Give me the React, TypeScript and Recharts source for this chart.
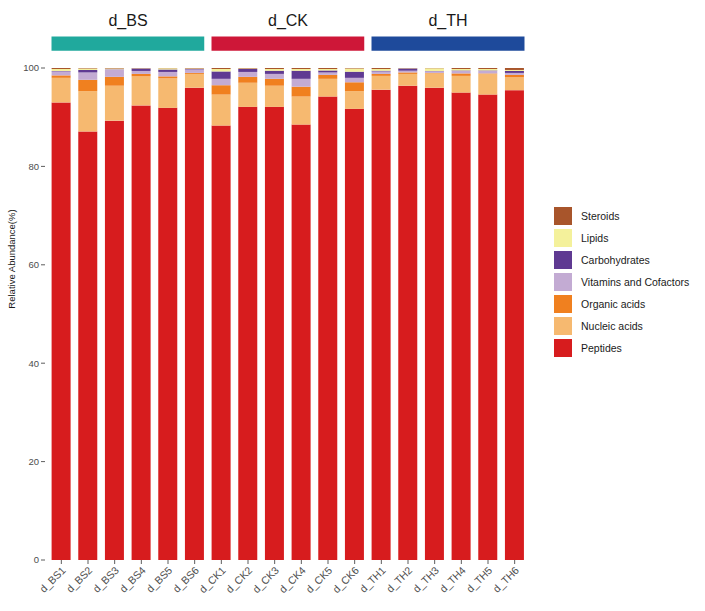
import React from "react";
import { BarChart, Bar, XAxis, YAxis, ReferenceArea } from "recharts";

const samples = [
  "d_BS1", "d_BS2", "d_BS3", "d_BS4", "d_BS5", "d_BS6",
  "d_CK1", "d_CK2", "d_CK3", "d_CK4", "d_CK5", "d_CK6",
  "d_TH1", "d_TH2", "d_TH3", "d_TH4", "d_TH5", "d_TH6",
];

const peptides = [93.0, 87.1, 89.3, 92.4, 91.9, 96.0, 88.3, 92.1, 92.1, 88.5, 94.2, 91.7, 95.6, 96.4, 96.0, 95.0, 94.6, 95.5];
const nucleicAcids = [5.0, 8.2, 7.1, 5.9, 6.0, 2.8, 6.3, 4.9, 4.3, 5.7, 3.6, 3.6, 2.8, 2.4, 2.9, 3.4, 4.2, 2.6];
const organicAcids = [0.5, 2.3, 1.8, 0.5, 0.4, 0.2, 1.9, 1.2, 1.4, 2.0, 0.8, 1.8, 0.4, 0.3, 0.1, 0.5, 0.1, 0.5];
const vitamins = [0.8, 1.5, 1.5, 0.6, 0.9, 0.7, 1.3, 1.0, 1.0, 1.6, 0.5, 0.9, 0.5, 0.35, 0.35, 0.5, 0.5, 0.4];
const carbohydrates = [0.1, 0.5, 0.05, 0.5, 0.5, 0.1, 1.5, 0.6, 0.65, 1.65, 0.4, 1.25, 0.15, 0.45, 0.05, 0.1, 0.1, 0.4];
const lipids = [0.4, 0.3, 0.15, 0.05, 0.25, 0.1, 0.5, 0.1, 0.35, 0.35, 0.3, 0.65, 0.35, 0.05, 0.55, 0.3, 0.3, 0.2];
const steroids = [0.2, 0.1, 0.1, 0.05, 0.05, 0.1, 0.2, 0.1, 0.2, 0.2, 0.2, 0.1, 0.2, 0.05, 0.05, 0.2, 0.2, 0.4];

const seriesNames = ["Peptides", "Nucleic acids", "Organic acids", "Vitamins and Cofactors", "Carbohydrates", "Lipids", "Steroids"];
const seriesValues = [peptides, nucleicAcids, organicAcids, vitamins, carbohydrates, lipids, steroids];
const seriesColors = ["#D71C1E", "#F6B970", "#F0801F", "#C3ABD3", "#5F3A92", "#F4F19B", "#A8552B"];

const groupNames = ["d_BS", "d_CK", "d_TH"];
const groupStarts = [0, 6, 12];
const groupSizes = [6, 6, 6];
const groupColors = ["#20A99D", "#CE1738", "#1E4A9B"];

const yTicks = [0, 20, 40, 60, 80, 100];

const rows = samples.map((s, i) => {
  const r: Record<string, string | number> = { sample: s };
  seriesNames.forEach((n, k) => {
    r[n] = seriesValues[k][i];
  });
  return r;
});

const FONT = "'Liberation Sans', Arial, Helvetica, sans-serif";

const XTick = (props: any) => {
  const { x, y, payload } = props;
  const ax = x + 5;
  const ay = y + 11;
  return (
    <g>
      <line x1={x} x2={x} y1={y} y2={y + 4} stroke="#333" strokeWidth={0.8} />
      <text
        x={ax}
        y={ay}
        textAnchor="end"
        transform={`rotate(-45 ${ax} ${ay})`}
        fontSize={10.5}
        fill="#4d4d4d"
        fontFamily={FONT}
      >
        {payload.value}
      </text>
    </g>
  );
};

const YTick = (props: any) => {
  const { x, y, payload } = props;
  return (
    <g>
      <line x1={x - 7} x2={x - 3} y1={y} y2={y} stroke="#333" strokeWidth={0.8} />
      <text x={x - 9} y={y} dy="0.35em" textAnchor="end" fontSize={9.5} fill="#4d4d4d" fontFamily={FONT}>
        {payload.value}
      </text>
    </g>
  );
};

const YLabel = () => (
  <text
    x={11.5}
    y={259}
    transform="rotate(-90 11.5 259)"
    textAnchor="middle"
    dy="0.35em"
    fontSize={9.5}
    fill="#1a1a1a"
    fontFamily={FONT}
  >
    Relative Abundance(%)
  </text>
);

export default function App() {
  const legendOrder = seriesNames.map((n, i) => i).reverse();
  return (
    <div style={{ position: "absolute", left: 0, top: 0, width: 705, height: 611, background: "#fff" }}>
      <BarChart
        width={705}
        height={611}
        data={rows}
        margin={{ top: 68, right: 177, bottom: 6, left: 0 }}
        barCategoryGap="13.5%"
      >
        <XAxis
          dataKey="sample"
          interval={0}
          tickLine={false}
          axisLine={false}
          tickSize={0}
          tickMargin={0}
          height={45}
          tick={<XTick />}
        />
        <YAxis
          domain={[0, 100]}
          ticks={yTicks}
          allowDataOverflow
          width={48}
          tickLine={false}
          axisLine={false}
          tickSize={0}
          tickMargin={0}
          tick={<YTick />}
          label={{ content: () => <YLabel /> }}
        />
        {seriesNames.map((n, k) => (
          <Bar key={n} dataKey={n} stackId="a" fill={seriesColors[k]} isAnimationActive={false} />
        ))}
        {groupNames.map((g, i) => (
          <ReferenceArea
            key={g}
            x1={samples[groupStarts[i]]}
            x2={samples[groupStarts[i] + groupSizes[i] - 1]}
            y1={102.79}
            y2={107.11}
            fill={groupColors[i]}
            fillOpacity={1}
            stroke="#ffffff"
            strokeWidth={7}
            ifOverflow="visible"
            label={{ value: g, position: "top", offset: 7, fontSize: 16, fill: "#1a1a1a", fontFamily: FONT }}
          />
        ))}
      </BarChart>
      <div style={{ position: "absolute", left: 553, top: 205, fontFamily: FONT }}>
        {legendOrder.map((k) => (
          <div key={seriesNames[k]} style={{ display: "flex", alignItems: "center", height: 22 }}>
            <div style={{ width: 20, height: 20, background: seriesColors[k], boxSizing: "border-box", border: "1px solid #fff" }} />
            <span style={{ marginLeft: 8, fontSize: 10.5, color: "#1a1a1a", whiteSpace: "nowrap" }}>{seriesNames[k]}</span>
          </div>
        ))}
      </div>
    </div>
  );
}
